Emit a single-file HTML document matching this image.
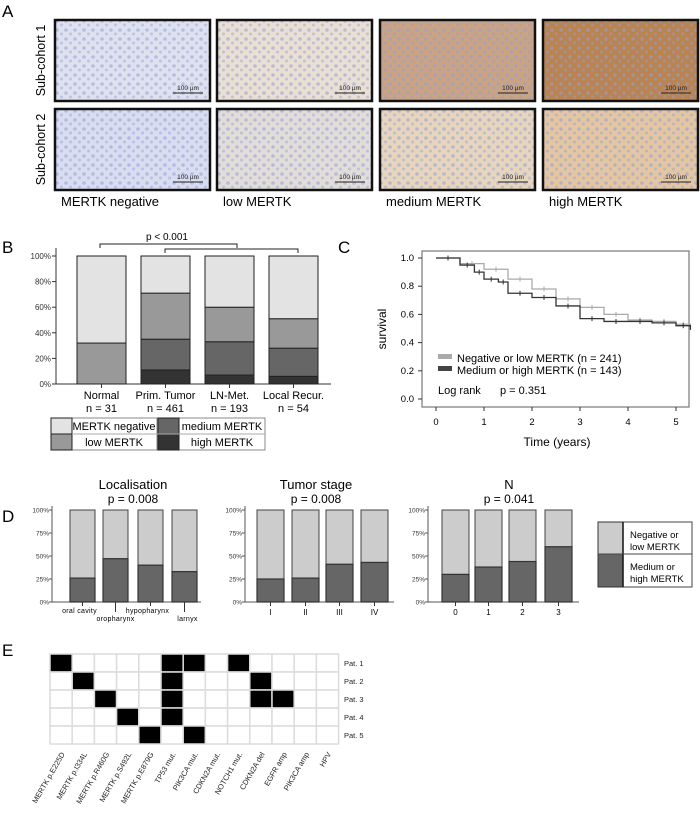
<!DOCTYPE html>
<html><head><meta charset="utf-8"><style>
body{margin:0;background:#fff}
svg{display:block;font-family:"Liberation Sans",Arial,sans-serif}
</style></head><body>
<svg id="fig" width="700" height="815" viewBox="0 0 700 815">
<defs>
<pattern id="cells" width="9" height="9" patternUnits="userSpaceOnUse"><circle cx="3" cy="3" r="1.8" fill="#8fa0d8" opacity="0.55"/><circle cx="7.5" cy="7" r="1.5" fill="#8fa0d8" opacity="0.45"/></pattern>
</defs>
<g id="panelA"></g>
<g id="panelB"></g>
<g id="panelC"></g>
<g id="panelD"></g>
<g id="panelE"></g>
</svg>
<script>
const NS="http://www.w3.org/2000/svg";
function mk(p,t,a,txt){const e=document.createElementNS(NS,t);for(const k in a)e.setAttribute(k,a[k]);if(txt!==undefined)e.textContent=txt;p.appendChild(e);return e;}

// ---- Panel A data ----
const aLevels=["MERTK negative","low MERTK","medium MERTK","high MERTK"];
const aCohorts=["Sub-cohort 1","Sub-cohort 2"];
const aColors=[["#dfe2ee","#e9dfd2","#c9a383","#b98452"],["#d9ddef","#e3ddd9","#e7d5bd","#e4c6a3"]];
// ---- Panel B data ----
const bCats=["Normal","Prim. Tumor","LN-Met.","Local Recur."];
const bN=["n = 31","n = 461","n = 193","n = 54"];
const bHigh=[0,11,7,6];
const bMed=[0,24,26,22];
const bLow=[32,36,27,23];
const bTicks=[0,20,40,60,80,100];
// ---- Panel C data ----
const cTimeLow=[0,0.5,1,1.5,2,2.5,3,3.5,4,4.5,5,5.3];
const cSurvLow=[1,0.96,0.92,0.85,0.78,0.71,0.65,0.6,0.56,0.55,0.53,0.52];
const cTimeHigh=[0,0.5,0.8,1,1.3,1.5,2,2.5,3,3.5,4,4.5,5,5.3];
const cSurvHigh=[1,0.95,0.9,0.85,0.83,0.75,0.72,0.66,0.57,0.55,0.55,0.54,0.52,0.49];
const cXTicks=[0,1,2,3,4,5];
const cYTicks=[0,0.2,0.4,0.6,0.8,1.0];
// ---- Panel D data ----
const dLocCats=["oral cavity","oropharynx","hypopharynx","larnyx"];
const dLocVals=[26,47,40,33];
const dStageCats=["I","II","III","IV"];
const dStageVals=[25,26,41,43];
const dNCats=["0","1","2","3"];
const dNVals=[30,38,44,60];
const dTicks=[0,25,50,75,100];
// ---- Panel E data ----
const eCols=["MERTK p.E225D","MERTK p.I334L","MERTK p.R460G","MERTK p.S492L","MERTK p.E879G","TP53 mut.","PIK3CA mut.","CDKN2A mut.","NOTCH1 mut.","CDKN2A del","EGFR amp","PIK3CA amp","HPV"];
const eRows=["Pat. 1","Pat. 2","Pat. 3","Pat. 4","Pat. 5"];
const eMatrix=[[1,0,0,0,0,1,1,0,1,0,0,0,0],[0,1,0,0,0,1,0,0,0,1,0,0,0],[0,0,1,0,0,1,0,0,0,1,1,0,0],[0,0,0,1,0,1,0,0,0,0,0,0,0],[0,0,0,0,1,0,1,0,0,0,0,0,0]];

// ===== Panel A =====
(function(){
const g=document.getElementById('panelA');
let t=mk(g,'text',{x:2,y:17,'font-size':17},'A');

const xs=[55,217,380,543],ys=[20,109],w=155,h=81;
aCohorts.forEach((c,r)=>{
 const l=mk(g,'text',{x:0,y:0,'font-size':12.5,'text-anchor':'middle',transform:`translate(45,${ys[r]+h/2}) rotate(-90)`},c);
 
 xs.forEach((x,i)=>{
  const im=mk(g,'rect',{x:x,y:ys[r],width:w,height:h,fill:aColors[r][i]});
  
  mk(g,'rect',{x:x,y:ys[r],width:w,height:h,fill:'url(#cells)'});
  mk(g,'rect',{x:x,y:ys[r],width:w,height:h,fill:'none',stroke:'#111','stroke-width':2.5});
  mk(g,'line',{x1:x+118,x2:x+148,y1:ys[r]+h-8,y2:ys[r]+h-8,stroke:'#222','stroke-width':1});
  mk(g,'text',{x:x+133,y:ys[r]+h-11,'font-size':6.5,'text-anchor':'middle',fill:'#222'},'100 µm');
 });
});
aLevels.forEach((s,i)=>{const l=mk(g,'text',{x:xs[i]+6,y:206,'font-size':13},s);
 });
})();

// ===== Panel B =====
(function(){
const g=document.getElementById('panelB');
let t=mk(g,'text',{x:2,y:253,'font-size':17},'B');

const y0=384,y100=256,ax=56,bw=49;
const Y=v=>y0-(v/100)*(y0-y100);
const bx=[77,141,205,269];
mk(g,'line',{x1:ax,x2:ax,y1:y100-8,y2:y0,stroke:'#333'});
mk(g,'line',{x1:ax,x2:331,y1:y0,y2:y0,stroke:'#333'});
bTicks.forEach(v=>{mk(g,'line',{x1:ax-4,x2:ax,y1:Y(v),y2:Y(v),stroke:'#333'});
 const l=mk(g,'text',{x:ax-5,y:Y(v)+3,'font-size':8,'text-anchor':'end',fill:'#333'},v+'%');
 });
const cols=['#333333','#666666','#999999','#e3e3e3'];
bCats.forEach((c,i)=>{
 const segs=[bHigh[i],bMed[i],bLow[i],100-bHigh[i]-bMed[i]-bLow[i]];
 let acc=0;
 segs.forEach((s,k)=>{if(s<=0)return;
  const r=mk(g,'rect',{x:bx[i],y:Y(acc+s),width:bw,height:Y(acc)-Y(acc+s),fill:cols[k],stroke:'#222','stroke-width':1});
  
  acc+=s;});
 const cx=bx[i]+bw/2;
 mk(g,'line',{x1:cx,x2:cx,y1:y0,y2:y0+4,stroke:'#333'});
 const l=mk(g,'text',{x:cx,y:y0+15,'font-size':11,'text-anchor':'middle'},c);
 
 mk(g,'text',{x:cx,y:y0+28,'font-size':11,'text-anchor':'middle'},bN[i]);
});
mk(g,'path',{d:`M100 248 V244 H237 V248`,fill:'none',stroke:'#222'});
mk(g,'path',{d:`M165 253 V249 H298 V253`,fill:'none',stroke:'#222'});
const p=mk(g,'text',{x:167,y:240,'font-size':10,'text-anchor':'middle'},'p < 0.001');

const lg=mk(g,'g',{});
const items=[['MERTK negative','#e3e3e3',51,418],['low MERTK','#999999',51,434],['medium MERTK','#666666',158,418],['high MERTK','#333333',158,434]];
mk(lg,'rect',{x:51,y:418,width:214,height:32,fill:'#fff',stroke:'#888'});
items.forEach(it=>{mk(lg,'rect',{x:it[2],y:it[3],width:21,height:16,fill:it[1],stroke:'#222'});
 const l=mk(lg,'text',{x:it[2]+21+(it[2]>100?43:42),y:it[3]+12,'font-size':11,'text-anchor':'middle'},it[0]);
 });
mk(lg,'line',{x1:157,x2:157,y1:418,y2:450,stroke:'#888'});
mk(lg,'line',{x1:72,x2:265,y1:434,y2:434,stroke:'#aaa'});
})();

// ===== Panel C =====
(function(){
const g=document.getElementById('panelC');
let t=mk(g,'text',{x:338,y:253,'font-size':17},'C');

const x0=436,pxYear=48,y0=399,pxUnit=141;
const X=v=>x0+v*pxYear,Y=v=>y0-v*pxUnit;
mk(g,'rect',{x:422,y:251,width:267,height:156,fill:'none',stroke:'#777','stroke-width':1.2});
cXTicks.forEach(v=>{mk(g,'line',{x1:X(v),x2:X(v),y1:407,y2:411,stroke:'#333'});
 const l=mk(g,'text',{x:X(v),y:425,'font-size':9.5,'text-anchor':'middle'},v);
 });
cYTicks.forEach(v=>{mk(g,'line',{x1:418,x2:422,y1:Y(v),y2:Y(v),stroke:'#333'});
 const l=mk(g,'text',{x:414,y:Y(v)+3,'font-size':9.5,'text-anchor':'end'},v.toFixed(1));
 });
const xt=mk(g,'text',{x:557,y:446,'font-size':12,'text-anchor':'middle'},'Time (years)');

const yt=mk(g,'text',{x:0,y:0,'font-size':12,'text-anchor':'middle',transform:'translate(386,329) rotate(-90)'},'survival');

function curve(ts,ss,col,name){
 let d=`M${X(ts[0])} ${Y(ss[0])}`;
 for(let i=1;i<ts.length;i++){d+=` H${X(ts[i])} V${Y(ss[i])}`;}
 const p=mk(g,'path',{d:d,fill:'none',stroke:col,'stroke-width':1.3});
 
 for(let i=1;i<ts.length;i++){const mx=(X(ts[i-1])+X(ts[i]))/2;const my=Y(ss[i-1]);
  mk(g,'line',{x1:mx,x2:mx,y1:my-2.5,y2:my+2.5,stroke:col,'stroke-width':1});}
}
curve(cTimeLow,cSurvLow,'#aaaaaa','survival-curve-low');
curve(cTimeHigh,cSurvHigh,'#333333','survival-curve-high');
mk(g,'rect',{x:438,y:354,width:14,height:5,fill:'#aaa'});
mk(g,'rect',{x:438,y:366,width:14,height:5,fill:'#444'});
let l=mk(g,'text',{x:457,y:362,'font-size':11},'Negative or low MERTK  (n = 241)');

l=mk(g,'text',{x:457,y:374,'font-size':11},'Medium or high MERTK  (n = 143)');

l=mk(g,'text',{x:438,y:394,'font-size':11},'Log rank');

l=mk(g,'text',{x:500,y:394,'font-size':11},'p = 0.351');

})();

// ===== Panel D =====
(function(){
const g=document.getElementById('panelD');
let t=mk(g,'text',{x:2,y:522,'font-size':17},'D');

const y0=602,y100=510;const Y=v=>y0-(v/100)*(y0-y100);
function chart(title,p,ax,axEnd,bx,bw,cats,vals,stagger,cx){
 const c=mk(g,'g',{});
 let l=mk(c,'text',{x:cx,y:489,'font-size':13,'text-anchor':'middle'},title);
 
 l=mk(c,'text',{x:cx,y:503,'font-size':12,'text-anchor':'middle'},p);
 
 mk(c,'line',{x1:ax,x2:ax,y1:y100-4,y2:y0,stroke:'#555'});
 mk(c,'line',{x1:ax,x2:axEnd,y1:y0,y2:y0,stroke:'#555'});
 dTicks.forEach(v=>{mk(c,'line',{x1:ax-3,x2:ax,y1:Y(v),y2:Y(v),stroke:'#555'});
  const tl=mk(c,'text',{x:ax-3,y:Y(v)+2.5,'font-size':6.5,'text-anchor':'end',fill:'#333'},v+'%');
  });
 cats.forEach((cat,i)=>{const x=bx[i];
  let r=mk(c,'rect',{x:x,y:y100,width:bw,height:Y(vals[i])-y100,fill:'#cccccc',stroke:'#444'});
  
  r=mk(c,'rect',{x:x,y:Y(vals[i]),width:bw,height:y0-Y(vals[i]),fill:'#666666',stroke:'#333','stroke-width':1.2});
  
  const mx=x+bw/2;
  if(stagger){const low=i%2==1;
   mk(c,'line',{x1:mx,x2:mx,y1:y0,y2:y0+(low?10:4),stroke:'#333'});
   const tl=mk(c,'text',{x:low?mx:mx-3,y:low?y0+19:y0+11,'font-size':7,'text-anchor':'middle','letter-spacing':'0.3'},cat);
   if(i==3)tl.setAttribute('x',mx+3);
   
  } else {
   mk(c,'line',{x1:mx,x2:mx,y1:y0,y2:y0+4,stroke:'#333'});
   const tl=mk(c,'text',{x:mx,y:y0+13,'font-size':8,'text-anchor':'middle'},cat);
   }
 });
}
chart('Localisation','p = 0.008',52,201,[70,103,138,172],25,dLocCats,dLocVals,true,133);
chart('Tumor stage','p = 0.008',245,394,[257,292,326,361],27,dStageCats,dStageVals,false,316);
chart('N','p = 0.041',428,579,[442,475,509,545],27,dNCats,dNVals,false,509);
const lg=mk(g,'g',{});
mk(lg,'rect',{x:598,y:522,width:94,height:65,fill:'#fff',stroke:'#444'});
mk(lg,'rect',{x:598,y:522,width:25,height:32,fill:'#cccccc',stroke:'#333'});
mk(lg,'rect',{x:598,y:554,width:25,height:33,fill:'#666666',stroke:'#333'});
mk(lg,'line',{x1:623,x2:623,y1:522,y2:587,stroke:'#111','stroke-width':1.5});
mk(lg,'line',{x1:598,x2:692,y1:554,y2:554,stroke:'#444'});
[['Negative or',538],['low MERTK',550],['Medium or',570],['high MERTK',582]].forEach(a=>{
 const l=mk(lg,'text',{x:630,y:a[1],'font-size':9.5},a[0]);
 });
})();

// ===== Panel E =====
(function(){
const g=document.getElementById('panelE');
let t=mk(g,'text',{x:2,y:656,'font-size':17},'E');

const gx=50,gy=654,cw=22.2,rh=18;
eRows.forEach((r,i)=>{
 eCols.forEach((c,j)=>{
  const on=eMatrix[i][j];
  const cell=mk(g,'rect',{x:gx+j*cw,y:gy+i*rh,width:cw,height:rh,fill:on?'#000':'#fff',stroke:'#dcdcdc','stroke-width':1.5});
  
 });
 const l=mk(g,'text',{x:344,y:gy+i*rh+12,'font-size':7.5,fill:'#222'},r);
 
});
eCols.forEach((c,j)=>{const cx=gx+j*cw+cw/2+4;
 const l=mk(g,'text',{x:0,y:0,'font-size':7.5,'text-anchor':'end',fill:'#222',transform:`translate(${cx},${gy+5*rh+10}) rotate(-60)`},c);
 });
})();
</script>
</body></html>
